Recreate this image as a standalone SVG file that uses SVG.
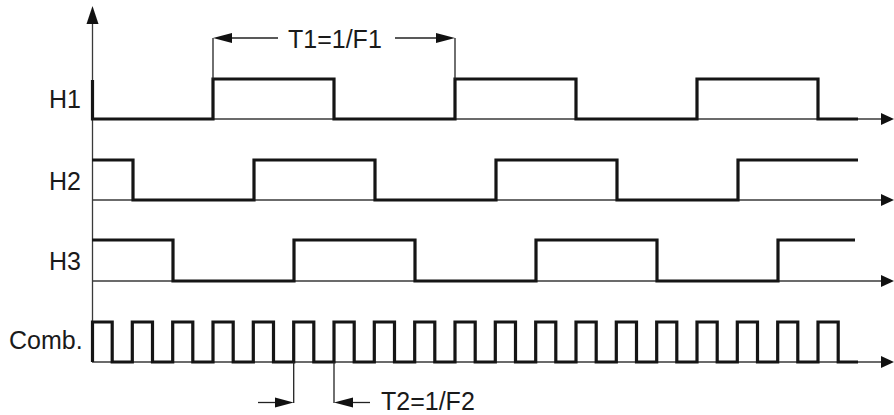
<svg xmlns="http://www.w3.org/2000/svg" width="894" height="415" viewBox="0 0 894 415">
<defs>
<style>
.axis{stroke:#3a3a3a;stroke-width:1.3;fill:none}
.sig{stroke:#151515;stroke-width:3.2;fill:none;stroke-linejoin:miter}
.dim{stroke:#222;stroke-width:1.3;fill:none}
.lbl{font-family:"Liberation Sans",Arial,sans-serif;font-size:25px;fill:#1a1a1a}
.head{fill:#111}
</style>
</defs>
<rect width="894" height="415" fill="#ffffff"/>
<g id="axes" class="connectors">
<line class="axis" x1="92.5" y1="20" x2="92.5" y2="362"/>
<polygon class="head" points="92.5,6 86.5,24 98.5,24"/>
<line class="axis" x1="92" y1="119" x2="882" y2="119"/>
<polygon class="head" points="894,119 881,113 881,125"/>
<line class="axis" x1="92" y1="200" x2="882" y2="200"/>
<polygon class="head" points="894,200 881,194 881,206"/>
<line class="axis" x1="92" y1="281" x2="882" y2="281"/>
<polygon class="head" points="894,281 881,275 881,287"/>
<line class="axis" x1="92" y1="362" x2="882" y2="362"/>
<polygon class="head" points="894,362 881,356 881,368"/>
</g>
<g id="H1">
<text class="lbl" x="49" y="108">H1</text>
<path class="sig" d="M92.5,80 V119 H213 V79 H334 V119 H455 V79 H576 V119 H697 V79 H818 V119 H858"/>
</g>
<g id="H2">
<text class="lbl" x="49" y="190">H2</text>
<path class="sig" d="M92,160 H133 V200 H254 V160 H375 V200 H496 V160 H617 V200 H738 V160 H858"/>
</g>
<g id="H3">
<text class="lbl" x="49" y="270">H3</text>
<path class="sig" d="M92,240 H173 V281 H294 V240 H415 V281 H536 V240 H657 V281 H778 V240 H855"/>
</g>
<g id="Comb">
<text class="lbl" x="9" y="349">Comb.</text>
<path class="sig" d="M92.5,362 V322 H112.2 V362 H132.3 V322 H152.5 V362 H172.7 V322 H192.8 V362 H213 V322 H233.2 V362 H253.3 V322 H273.5 V362 H293.7 V322 H313.8 V362 H334 V322 H354.2 V362 H374.3 V322 H394.5 V362 H414.7 V322 H434.8 V362 H455 V322 H475.2 V362 H495.3 V322 H515.5 V362 H535.7 V322 H555.8 V362 H576 V322 H596.2 V362 H616.3 V322 H636.5 V362 H656.7 V322 H676.8 V362 H697 V322 H717.2 V362 H737.3 V322 H757.5 V362 H777.7 V322 H797.8 V362 H818 V322 H838.2 V362 H858"/>
</g>
<g id="T1">
<line class="dim" x1="213" y1="38" x2="213" y2="79"/>
<line class="dim" x1="230" y1="38" x2="278" y2="38"/>
<polygon class="head" points="213,38 232,33 232,43"/>
<line class="dim" x1="455" y1="38" x2="455" y2="79"/>
<line class="dim" x1="395" y1="38" x2="438" y2="38"/>
<polygon class="head" points="455,38 436,33 436,43"/>
<text class="lbl" x="288" y="48">T1=1/F1</text>
</g>
<g id="T2">
<line class="dim" x1="293.7" y1="362" x2="293.7" y2="403"/>
<line class="dim" x1="258" y1="402.5" x2="278" y2="402.5"/>
<polygon class="head" points="293.7,402.5 275,397.5 275,407.5"/>
<line class="dim" x1="334" y1="362" x2="334" y2="403"/>
<line class="dim" x1="350" y1="402.5" x2="370" y2="402.5"/>
<polygon class="head" points="334,402.5 353,397.5 353,407.5"/>
<text class="lbl" x="381" y="410">T2=1/F2</text>
</g>
</svg>
